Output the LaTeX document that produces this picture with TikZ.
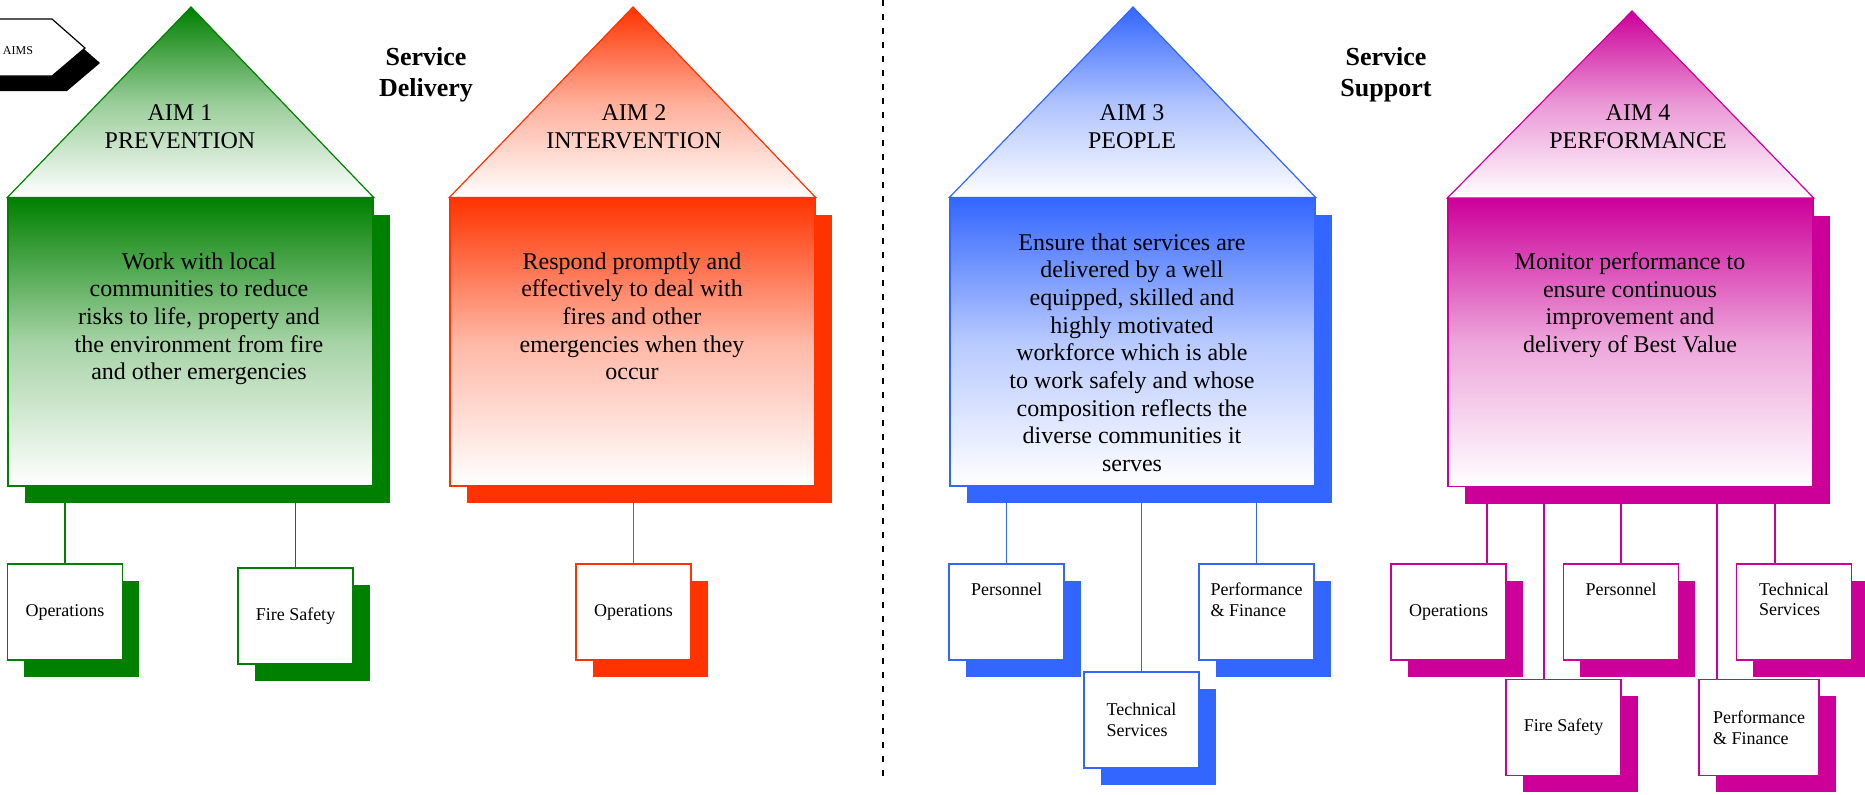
\documentclass[tikz,border=0pt]{standalone}
\usepackage{fontspec}
\setmainfont{Liberation Serif}
\usetikzlibrary{shadows,backgrounds}

\begin{document}
\begin{tikzpicture}[x=0.5pt, y=-0.5pt,
    body/.style={draw=#1, line width=0.6pt, top color=#1, bottom color=white, middle color=#1!35,
        minimum width=182.5pt, minimum height=144pt, inner sep=0pt,
        drop shadow={shadow xshift=8.5pt, shadow yshift=-8.5pt, fill=#1, opacity=1}},
    roof/.style={draw=#1, line width=0.6pt, top color=#1, bottom color=white, middle color=#1!40},
    unitbox/.style={draw=#1, line width=0.8pt, fill=white, minimum width=57.5pt, minimum height=48pt,
        inner sep=0pt, align=left, font=\fontsize{9}{10.4}\selectfont,
        drop shadow={shadow xshift=8.25pt, shadow yshift=-8.25pt, fill=#1, opacity=1}},
    unittext/.style={inner sep=0pt, align=left, font=\fontsize{9}{10.4}\selectfont},
    aimtitle/.style={inner sep=0pt, align=center, font=\fontsize{12}{14}\selectfont},
    aimtext/.style={inner sep=0pt, align=center, font=\fontsize{12}{13.85}\selectfont},
    areahead/.style={inner sep=0pt, align=center, font=\fontsize{13}{15.5}\selectfont\bfseries},
    linkline/.style={draw=#1, line width=0.8pt}]

    % Define colors
    \definecolor{prevcol}{RGB}{0,128,0}
    \definecolor{intcol}{RGB}{255,51,0}
    \definecolor{peoplecol}{RGB}{51,102,255}
    \definecolor{perfcol}{RGB}{204,0,153}

    \useasboundingbox (0,0) rectangle (1865,794);

    % Aims tag
    \fill[black] (-20,34) -- (67,34) -- (100,63) -- (67,91) -- (-20,91) -- cycle;
    \draw[fill=white, line width=0.6pt] (-20,19) -- (52,19) -- (85,48) -- (52,76) -- (-20,76) -- cycle;
    \node[inner sep=0pt, font=\fontsize{6}{7}\selectfont] (aims) at (18,51) {AIMS};

    % Headings and divider
    \node[areahead] (delivery) at (426,75) {Service\\Delivery};
    \node[areahead] (support) at (1386,75) {Service\\Support};
    \draw[line width=1.1pt, dash pattern=on 3pt off 4pt] (883,0) -- (883,776);

    % Aim 1 - prevention
    \node[body=prevcol] (g-body) at (190.5,342) {};
    \shade[roof=prevcol] (g-body.north west) -- (191,7) -- (g-body.north east) -- cycle;
    \node[aimtitle] (g-title) at (180,127) {AIM 1\\PREVENTION};
    \node[aimtext, anchor=north] (g-text) at (199,252) {Work with local\\communities to reduce\\risks to life, property and\\the environment from fire\\and other emergencies};
    \node[unitbox=prevcol] (g-ops) at (65,612) {Operations};
    \node[unitbox=prevcol] (g-fire) at (295.5,616) {Fire Safety};

    % Aim 2 - intervention
    \node[body=intcol] (r-body) at (632.5,342) {};
    \shade[roof=intcol] (r-body.north west) -- (633,7) -- (r-body.north east) -- cycle;
    \node[aimtitle] (r-title) at (634,127) {AIM 2\\INTERVENTION};
    \node[aimtext, anchor=north] (r-text) at (632,252) {Respond promptly and\\effectively to deal with\\fires and other\\emergencies when they\\occur};
    \node[unitbox=intcol] (r-ops) at (633.5,612) {Operations};

    % Aim 3 - people
    \node[body=peoplecol] (b-body) at (1132.5,342) {};
    \shade[roof=peoplecol] (b-body.north west) -- (1133,7) -- (b-body.north east) -- cycle;
    \node[aimtitle] (b-title) at (1132,127) {AIM 3\\PEOPLE};
    \node[aimtext, anchor=north] (b-text) at (1132,233) {Ensure that services are\\delivered by a well\\equipped, skilled and\\highly motivated\\workforce which is able\\to work safely and whose\\composition reflects the\\diverse communities it\\serves};
    \node[unitbox=peoplecol] (b-pers) at (1006.5,612) {};
    \node[unittext, anchor=north] (b-pers-text) at ([yshift=-9.5pt]b-pers.north) {Personnel};
    \node[unitbox=peoplecol] (b-tech) at (1141.5,720) {Technical\\Services};
    \node[unitbox=peoplecol] (b-perf) at (1256.5,612) {};
    \node[unittext, anchor=north] (b-perf-text) at ([yshift=-9.5pt]b-perf.north) {Performance\\\& Finance};

    % Aim 4 - performance
    \node[body=perfcol] (m-body) at (1630.5,342.5) {};
    \shade[roof=perfcol] (m-body.north west) -- (1632,11) -- (m-body.north east) -- cycle;
    \node[aimtitle] (m-title) at (1638,127) {AIM 4\\PERFORMANCE};
    \node[aimtext, anchor=north] (m-text) at (1630,252) {Monitor performance to\\ensure continuous\\improvement and\\delivery of Best Value};
    \node[unitbox=perfcol] (m-ops) at (1448.5,612) {Operations};
    \node[unitbox=perfcol] (m-fire) at (1563.5,727.5) {Fire Safety};
    \node[unitbox=perfcol] (m-pers) at (1621,612) {};
    \node[unittext, anchor=north] (m-pers-text) at ([yshift=-9.5pt]m-pers.north) {Personnel};
    \node[unitbox=perfcol, minimum width=60pt] (m-perf) at (1759,727.5) {Performance\\\& Finance};
    \node[unitbox=perfcol] (m-tech) at (1794,612) {};
    \node[unittext, anchor=north] (m-tech-text) at ([yshift=-9.5pt]m-tech.north) {Technical\\Services};

    % Links from each aim down to its units
    \begin{scope}[on background layer]
        \draw[linkline=prevcol] (g-ops.north |- g-body.south) -- (g-ops.north);
        \draw[linkline=prevcol] (g-fire.north |- g-body.south) -- (g-fire.north);
        \draw[linkline=intcol] (r-ops.north |- r-body.south) -- (r-ops.north);
        \draw[linkline=peoplecol] (b-pers.north |- b-body.south) -- (b-pers.north);
        \draw[linkline=peoplecol] (b-tech.north |- b-body.south) -- (b-tech.north);
        \draw[linkline=peoplecol] (b-perf.north |- b-body.south) -- (b-perf.north);
        \draw[linkline=perfcol] ([xshift=19.25pt]m-ops.north |- m-body.south) -- ([xshift=19.25pt]m-ops.north);
        \draw[linkline=perfcol] ([xshift=-9.75pt]m-fire.north |- m-body.south) -- ([xshift=-9.75pt]m-fire.north);
        \draw[linkline=perfcol] (m-pers.north |- m-body.south) -- (m-pers.north);
        \draw[linkline=perfcol] ([xshift=-21pt]m-perf.north |- m-body.south) -- ([xshift=-21pt]m-perf.north);
        \draw[linkline=perfcol] ([xshift=-9.5pt]m-tech.north |- m-body.south) -- ([xshift=-9.5pt]m-tech.north);
    \end{scope}

\end{tikzpicture}
\end{document}
